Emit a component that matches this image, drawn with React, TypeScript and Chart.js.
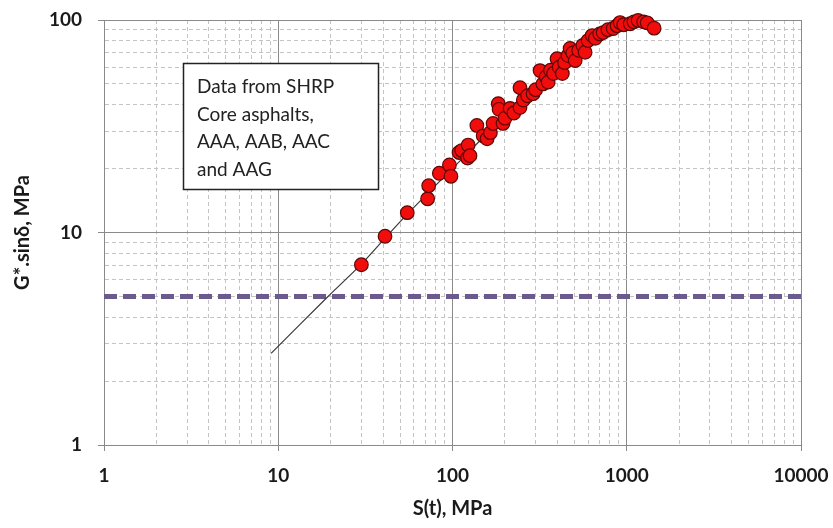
import React, { useEffect, useRef } from "react";
import { Chart, registerables } from "chart.js";

Chart.register(...registerables);

// ---- data ----
const stiffnessX = [30, 41, 55, 72, 73, 84, 96, 98, 109, 113, 122, 123, 126, 138, 150, 158, 165, 171, 183, 185, 195, 200, 214, 225, 244, 244, 255, 270, 290, 300, 318, 330, 345, 354, 365, 380, 398, 410, 427, 440, 460, 473, 490, 506, 530, 560, 577, 600, 633, 660, 700, 732, 780, 836, 880, 916, 960, 1047, 1100, 1162, 1250, 1310, 1436];
const gSinDeltaY = [7.05, 9.6, 12.4, 14.4, 16.6, 19, 20.8, 18.4, 23.8, 24.3, 22.4, 25.8, 23, 31.9, 28.5, 27.6, 29.5, 32.6, 40.4, 38, 32.6, 34.5, 38.4, 36.5, 48, 38.7, 42, 44, 45, 47, 57.8, 50, 54, 51, 58, 56, 65.8, 60, 56, 63, 68, 73.5, 70, 64.4, 72, 76, 70.5, 80, 84.5, 82, 86, 87.3, 90, 91.2, 94, 97.3, 95, 96, 98, 99.5, 98, 97, 91.5];

const fitX = [9.1, 19.3, 30, 41, 55, 75, 100, 150, 200, 300, 400, 500, 600, 800, 1000, 1200];
const fitY = [2.7, 5.0, 7.1, 9.4, 12.2, 15.8, 20, 28, 35, 47, 58, 67, 75, 87, 94, 97];

const limitX = [1, 10000];
const limitY = [5, 5];

const xMajorTicks = [1, 10, 100, 1000, 10000];
const yMajorTicks = [1, 10, 100];
const minorMultipliers = [2, 3, 4, 5, 6, 7, 8, 9];

const noteLines = ["Data from SHRP", "Core asphalts,", "AAA, AAB, AAC", "and AAG"];

const xTitle = "S(t), MPa";
const yTitle = "G*.sin\u03b4, MPa";

// ---- helpers ----
const isMajor = (v: number) => {
  const l = Math.log10(v);
  return Math.abs(l - Math.round(l)) < 1e-9;
};

const buildTicks = (majors: number[]) => {
  const out: { value: number; major: boolean }[] = [];
  majors.forEach((m, i) => {
    out.push({ value: m, major: true });
    if (i < majors.length - 1) {
      minorMultipliers.forEach((k) => out.push({ value: m * k, major: false }));
    }
  });
  return out;
};

const FONT = "Lato, 'Open Sans', sans-serif";
const MAJOR_GRID = "#8a8a8a";
const MINOR_GRID = "#c4c4c4";

const notePlugin = {
  id: "noteBox",
  afterDatasetsDraw(chart: any) {
    const { ctx, chartArea } = chart;
    const left = chartArea.left + 79;
    const top = chartArea.top + 43;
    const w = 195;
    const h = 126;
    ctx.save();
    ctx.fillStyle = "#ffffff";
    ctx.fillRect(left, top, w, h);
    ctx.strokeStyle = "#222222";
    ctx.lineWidth = 1.5;
    ctx.strokeRect(left + 0.5, top + 0.5, w, h);
    ctx.fillStyle = "#222222";
    ctx.font = `19px ${FONT}`;
    ctx.textAlign = "left";
    ctx.textBaseline = "alphabetic";
    noteLines.forEach((line, i) => {
      ctx.fillText(line, left + 14, top + 30 + i * 27.5);
    });
    ctx.restore();
  },
};

const zeroPad = (s: any) => {
  s.paddingLeft = 0;
  s.paddingRight = 0;
  s.paddingTop = 0;
  s.paddingBottom = 0;
};

const gridOpts = {
  color: (c: any) => (c.tick && isMajor(c.tick.value) ? MAJOR_GRID : MINOR_GRID),
  lineWidth: 1,
  tickLength: 6,
  tickColor: (c: any) => (c.tick && isMajor(c.tick.value) ? MAJOR_GRID : "rgba(0,0,0,0)"),
};

const borderOpts = {
  display: true,
  color: MAJOR_GRID,
  width: 1,
  dash: (c: any) => (c.tick && !isMajor(c.tick.value) ? [4, 3] : []),
};

export default function App() {
  const ref = useRef<HTMLCanvasElement | null>(null);

  useEffect(() => {
    if (!ref.current) return;
    const chart = new Chart(ref.current, {
      type: "scatter",
      data: {
        datasets: [
          {
            label: "SHRP core asphalts",
            data: stiffnessX.map((x, i) => ({ x, y: gSinDeltaY[i] })),
            backgroundColor: "#f20d0d",
            borderColor: "#5e0606",
            borderWidth: 1.2,
            pointRadius: 6.8,
            showLine: false,
            clip: false,
          },
          {
            label: "fit",
            data: fitX.map((x, i) => ({ x, y: fitY[i] })),
            showLine: true,
            borderColor: "#3a3a3a",
            borderWidth: 1.2,
            pointRadius: 0,
            tension: 0.3,
          },
          {
            label: "limit",
            data: limitX.map((x, i) => ({ x, y: limitY[i] })),
            showLine: true,
            borderColor: "#6a5a8e",
            borderWidth: 5,
            borderDash: [13, 6],
            pointRadius: 0,
          },
        ],
      },
      options: {
        responsive: false,
        animation: false,
        layout: { padding: { top: 20, right: 32, left: 0, bottom: 0 } },
        plugins: {
          legend: { display: false },
          tooltip: { enabled: false },
        },
        scales: {
          x: {
            type: "logarithmic",
            min: 1,
            max: 10000,
            afterBuildTicks: (s: any) => {
              s.ticks = buildTicks(xMajorTicks);
            },
            afterFit: (s: any) => {
              s.height = 83;
              zeroPad(s);
            },
            ticks: {
              autoSkip: false,
              maxRotation: 0,
              padding: 13,
              color: "#1a1a1a",
              font: { family: FONT, size: 19, weight: "bold" },
              callback: (v: any) => (isMajor(Number(v)) ? String(v) : ""),
            },
            grid: gridOpts,
            border: borderOpts,
            title: {
              display: true,
              text: xTitle,
              color: "#1a1a1a",
              font: { family: FONT, size: 20, weight: "bold" },
              padding: { top: 0, bottom: 7 },
            },
          },
          y: {
            type: "logarithmic",
            min: 1,
            max: 100,
            afterBuildTicks: (s: any) => {
              s.ticks = buildTicks(yMajorTicks);
            },
            afterFit: (s: any) => {
              s.width = 104;
              zeroPad(s);
            },
            ticks: {
              autoSkip: false,
              padding: 16,
              color: "#1a1a1a",
              font: { family: FONT, size: 19, weight: "bold" },
              callback: (v: any) => (isMajor(Number(v)) ? String(v) : ""),
            },
            grid: gridOpts,
            border: borderOpts,
            title: {
              display: true,
              text: yTitle,
              color: "#1a1a1a",
              font: { family: FONT, size: 20, weight: "bold" },
              padding: { top: 11, bottom: 0 },
            },
          },
        },
      },
      plugins: [notePlugin],
    } as any);
    return () => chart.destroy();
  }, []);

  return (
    <div style={{ position: "absolute", left: 0, top: 0, width: 833, height: 528, background: "#fff" }}>
      <canvas ref={ref} width={833} height={528} />
    </div>
  );
}
